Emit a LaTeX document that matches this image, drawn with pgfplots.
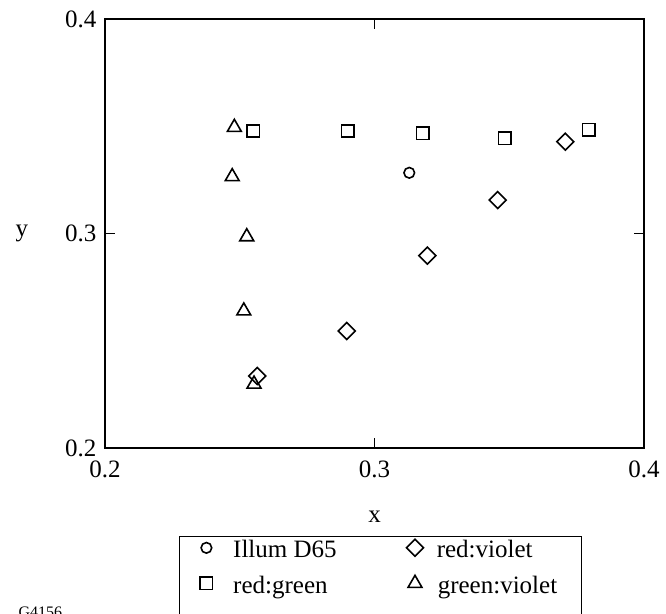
\documentclass[border=0pt]{standalone}
\usepackage{fontspec}
\setmainfont{Liberation Serif}
\usepackage{pgfplots}
\pgfplotsset{compat=1.18}

\newcommand\bigfont{\fontsize{25}{30}\selectfont}
% legend text cell: fixed width, fixed strut
\newcommand\legtext[3]{\makebox[#1][l]{\rule[-6pt]{0pt}{27pt}\hspace{#2}#3}}

\begin{document}
\begin{tikzpicture}
\begin{axis}[
  at={(105pt,165pt)}, anchor=south west,
  scale only axis, width=539pt, height=429pt,
  xmin=0.2, xmax=0.4, ymin=0.2, ymax=0.4,
  xtick={0.2,0.3,0.4}, ytick={0.2,0.3,0.4},
  tick align=inside, major tick length=10pt,
  tick style={line width=1.2pt, black},
  axis line style={line width=1.2pt, black},
  /pgf/number format/assume math mode=true,
  /pgf/number format/fixed, /pgf/number format/precision=1,
  xticklabel style={font=\bigfont, yshift=-9pt},
  yticklabel style={font=\bigfont, xshift=-5pt},
  xlabel={x}, ylabel={y},
  xlabel style={font=\bigfont, at={(axis description cs:0.5,-0.16)}, anchor=center},
  ylabel style={font=\bigfont, rotate=-90, at={(axis description cs:-0.154,0.5)}, anchor=center},
  legend columns=2,
  legend cell align=left,
  legend style={at={(0.1373,-0.2051)}, anchor=north west, draw=black,
    line width=1.2pt, font=\bigfont, inner sep=0pt, nodes={inner sep=0pt},
    column sep=0pt, row sep=13pt},
  legend image code/.code={\path (-26pt,0pt) (20pt,0pt);
    \draw[#1, line width=1.6pt] plot coordinates {(0pt,0pt)};},
]
% Illuminant D65
\addplot[black, only marks, mark=o, mark size=5.3pt, line width=1.6pt]
  coordinates {(0.3129,0.3283)};
\addlegendentry{\legtext{161pt}{6pt}{Illum D65}}
% red:violet
\addplot[black, only marks, mark=square, mark size=6pt, line width=1.6pt,
  mark options={rotate=45}]
  coordinates {(0.2565,0.2336) (0.2897,0.2545) (0.3196,0.2897)
               (0.3457,0.3156) (0.3708,0.3428)};
\addlegendentry{\legtext{146pt}{1pt}{red:violet}}
% red:green
\addplot[black, only marks, mark=square, mark size=6.2pt, line width=1.6pt]
  coordinates {(0.2550,0.3478) (0.2901,0.3478) (0.3179,0.3467)
               (0.3483,0.3444) (0.3795,0.3483)};
\addlegendentry{\legtext{161pt}{6pt}{red:green}}
% green:violet
\addplot[black, only marks, mark=triangle, mark size=8pt, line width=1.6pt]
  coordinates {(0.2480,0.3495) (0.2472,0.3265) (0.2526,0.2985)
               (0.2515,0.2639) (0.2553,0.2298)};
\addlegendentry{\legtext{146pt}{2pt}{green:violet}}
% spacer row below the entries
\addlegendimage{empty legend}
\addlegendentry{\rule{0pt}{20pt}}
\end{axis}
\node[anchor=base west, font=\fontsize{16}{19}\selectfont] at (15pt,-4.6pt) {G4156};
\pgfresetboundingbox
\path[use as bounding box] (0pt,0pt) rectangle (666pt,613pt);
\end{tikzpicture}
\end{document}
